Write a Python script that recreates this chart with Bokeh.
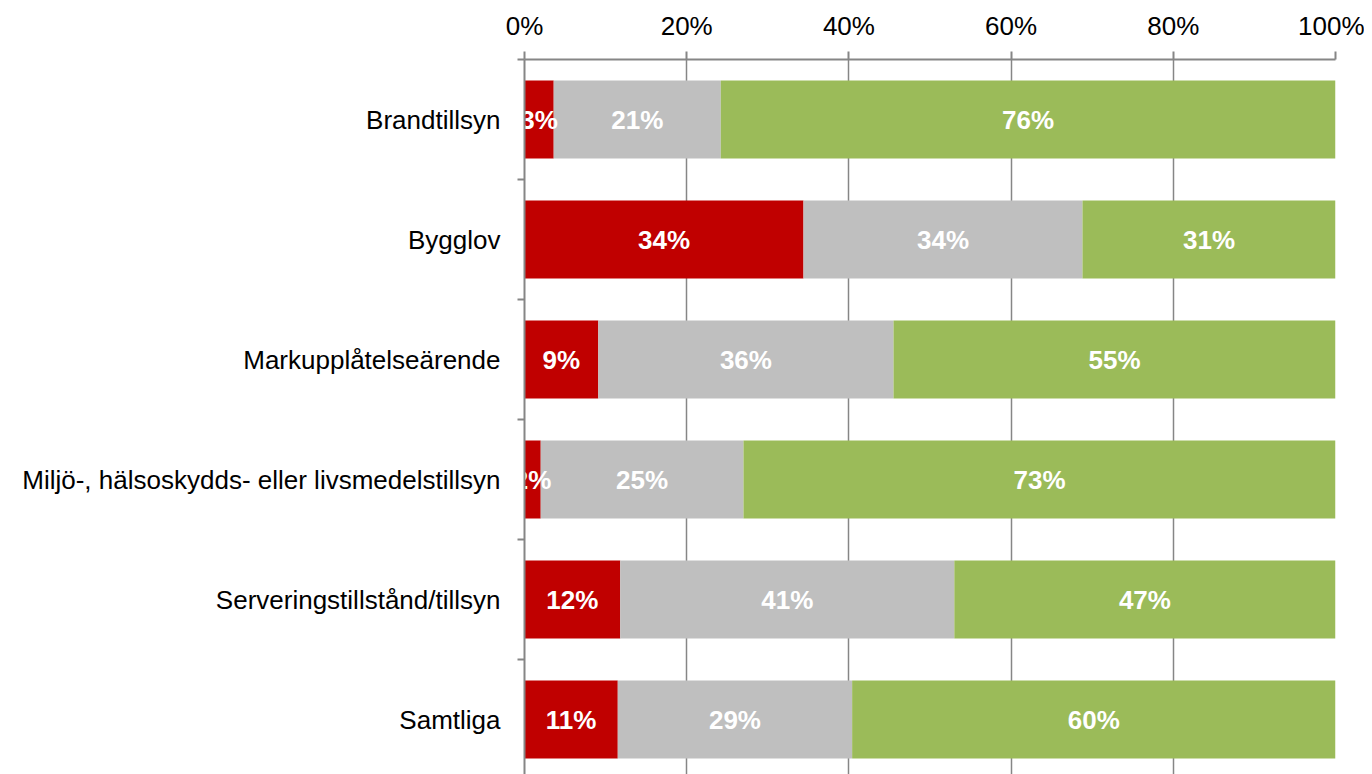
from bokeh.plotting import figure
from bokeh.models import Range1d, FixedTicker, Grid, ColumnDataSource
from bokeh.embed import file_html
from bokeh.resources import INLINE
from bokeh.core.properties import value

# ---- data ----
categories = ["Brandtillsyn", "Bygglov", "Markupplåtelseärende",
              "Miljö-, hälsoskydds- eller livsmedelstillsyn",
              "Serveringstillstånd/tillsyn", "Samtliga"]
red_vals = [3.6, 34.4, 9.1, 2.0, 11.8, 11.5]
gray_vals = [20.6, 34.4, 36.4, 25.0, 41.2, 28.9]
green_vals = [75.8, 31.2, 54.5, 73.0, 47.0, 59.6]
red_labels = ["3%", "34%", "9%", "2%", "12%", "11%"]
gray_labels = ["21%", "34%", "36%", "25%", "41%", "29%"]
green_labels = ["76%", "31%", "55%", "73%", "47%", "60%"]
x_ticks = [0, 20, 40, 60, 80, 100]
x_tick_labels = ["0%", "20%", "40%", "60%", "80%", "100%"]

RED = "#C00000"
GRAY = "#BFBFBF"
GREEN = "#9BBB59"
AXIS = "#868686"
FONT = "Liberation Sans"

n = len(categories)
ypos = [n - 0.5 - i for i in range(n)]

W, H = 1364, 774
left_b, top_b, right_b = 524, 59, 29
frame_h = H - top_b
p = figure(width=W, height=H, output_backend="svg", toolbar_location=None,
           x_range=Range1d(0, 100), y_range=Range1d(n - frame_h / 120.0, n),
           x_axis_location="above", min_border_left=left_b, min_border_top=top_b,
           min_border_bottom=0, min_border_right=right_b)
p.outline_line_color = None
p.background_fill_color = "white"

left0 = [0] * n
red_end = [r for r in red_vals]
gray_end = [r + g for r, g in zip(red_vals, gray_vals)]
green_end = [a + b for a, b in zip(gray_end, green_vals)]

h = 0.65
p.hbar(y=ypos, left=left0, right=red_end, height=h, fill_color=RED, line_color=None)
p.hbar(y=ypos, left=red_end, right=gray_end, height=h, fill_color=GRAY, line_color=None)
p.hbar(y=ypos, left=gray_end, right=green_end, height=h, fill_color=GREEN, line_color=None)

def centers(a, b):
    return [(x + y) / 2 for x, y in zip(a, b)]

for xs, labels in [(centers(left0, red_end), red_labels),
                   (centers(red_end, gray_end), gray_labels),
                   (centers(gray_end, green_end), green_labels)]:
    src = ColumnDataSource(dict(x=xs, y=ypos, t=labels))
    p.text(x="x", y="y", text="t", source=src, text_color="white",
           text_font=value(FONT), text_font_style="bold", text_font_size="26px",
           text_align="center", text_baseline="middle")

# x axis (top)
xa = p.xaxis[0]
xa.ticker = FixedTicker(ticks=x_ticks)
xa.major_label_overrides = {t: l for t, l in zip(x_ticks, x_tick_labels)}
xa.major_label_text_font = FONT
xa.major_label_text_font_size = "26px"
xa.major_label_text_color = "black"
xa.major_label_standoff = 11
xa.axis_line_color = AXIS
xa.axis_line_width = 2
xa.major_tick_line_color = AXIS
xa.major_tick_line_width = 2
xa.major_tick_in = 0
xa.major_tick_out = 8
xa.minor_tick_line_color = None

# y axis (left)
ya = p.yaxis[0]
ya.ticker = FixedTicker(ticks=ypos, minor_ticks=[1, 2, 3, 4, 5, 6])
ya.major_label_overrides = {y: c for y, c in zip(ypos, categories)}
ya.major_label_text_font = FONT
ya.major_label_text_font_size = "26px"
ya.major_label_text_color = "black"
ya.major_label_standoff = 17
ya.axis_line_color = AXIS
ya.axis_line_width = 2
ya.major_tick_line_color = None
ya.major_tick_in = 0
ya.major_tick_out = 0
ya.minor_tick_line_color = AXIS
ya.minor_tick_line_width = 2
ya.minor_tick_in = 0
ya.minor_tick_out = 7

p.ygrid.grid_line_color = None
p.xgrid.ticker = FixedTicker(ticks=[20, 40, 60, 80])
p.xgrid.grid_line_color = AXIS
p.xgrid.grid_line_width = 1.5
p.add_layout(Grid(dimension=0, ticker=FixedTicker(ticks=[100]),
                  grid_line_color="black", grid_line_width=1.5))

open("out.html", "w").write(file_html(p, INLINE))
